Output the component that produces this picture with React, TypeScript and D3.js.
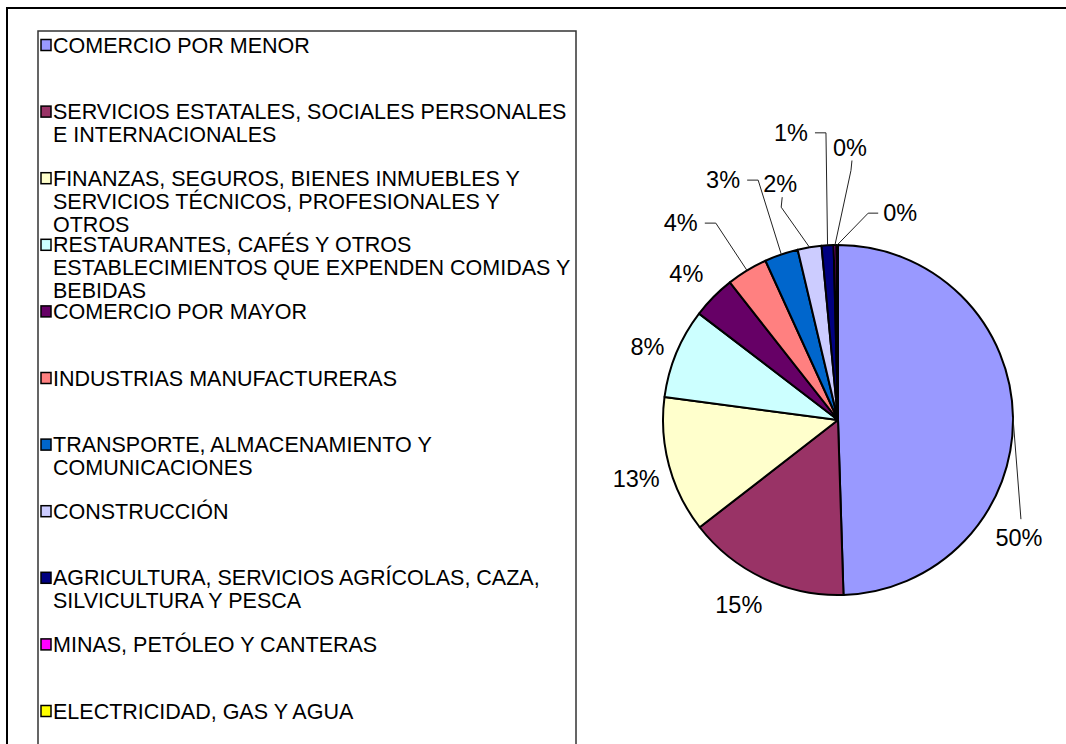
import { useEffect, useRef } from 'react';
import * as d3 from 'd3';

const categories = [
  'COMERCIO POR MENOR',
  'SERVICIOS ESTATALES, SOCIALES PERSONALES E INTERNACIONALES',
  'FINANZAS, SEGUROS, BIENES INMUEBLES Y SERVICIOS TÉCNICOS, PROFESIONALES Y OTROS',
  'RESTAURANTES, CAFÉS Y OTROS ESTABLECIMIENTOS QUE EXPENDEN COMIDAS Y BEBIDAS',
  'COMERCIO POR MAYOR',
  'INDUSTRIAS MANUFACTURERAS',
  'TRANSPORTE, ALMACENAMIENTO Y COMUNICACIONES',
  'CONSTRUCCIÓN',
  'AGRICULTURA, SERVICIOS AGRÍCOLAS, CAZA, SILVICULTURA Y PESCA',
  'MINAS, PETÓLEO Y CANTERAS',
  'ELECTRICIDAD, GAS Y AGUA',
];

// share of each sector (percent)
const shares = [49.5, 15.0, 12.6, 8.3, 4.0, 3.8, 3.1, 2.2, 1.1, 0.25, 0.15];

const colors = [
  '#9999ff', '#993366', '#ffffcc', '#ccffff', '#660066', '#ff8080',
  '#0066cc', '#ccccff', '#000080', '#ff00ff', '#ffff00',
];

// labels were dragged by hand in the original: [angle shift (deg), distance from centre]
const labelNudge: [number, number][] = [
  [34, 216], [3, 210], [-1, 210], [-1.6, 204], [-0.6, 211], [-7.3, 252],
  [-6.7, 266], [-4.4, 243], [-5.9, 291], [3.5, 273], [17, 216],
];
const leaderSide = ['top', '', '', '', '', 'right', 'right', 'bottom', 'right', 'bottom', 'left'];

const W = 1066,
  H = 744;
const FONT = 'Liberation Sans, Arial, sans-serif';

export default function App() {
  const svgRef = useRef<SVGSVGElement>(null);

  useEffect(() => {
    const svg = d3.select(svgRef.current);
    svg.selectAll('*').remove();

    // chart area border
    svg
      .append('rect')
      .attr('x', 7)
      .attr('y', 8)
      .attr('width', W + 20)
      .attr('height', H + 20)
      .attr('fill', '#fff')
      .attr('stroke', '#000')
      .attr('stroke-width', 2);

    // ---- legend ----
    const legend = svg.append('g');
    legend
      .append('rect')
      .attr('x', 38)
      .attr('y', 31)
      .attr('width', 538)
      .attr('height', H)
      .attr('fill', '#fff')
      .attr('stroke', '#333')
      .attr('stroke-width', 1.5);

    const y = d3.scalePoint<string>().domain(categories).range([45, 711]);
    const maxW = 522;

    categories.forEach((name, i) => {
      const g = legend.append('g').attr('transform', `translate(0,${y(name)})`);
      g.append('rect')
        .attr('x', 41)
        .attr('y', -5.5)
        .attr('width', 10)
        .attr('height', 11)
        .attr('fill', colors[i])
        .attr('stroke', '#000')
        .attr('stroke-width', 1.5);

      const text = g
        .append('text')
        .attr('x', 53)
        .attr('font-family', FONT)
        .attr('font-size', 21.5)
        .attr('fill', '#000');

      // greedy wrap
      const words = name.split(' ');
      let line: string[] = [];
      let lineNo = 0;
      let tspan = text.append('tspan').attr('x', 53).attr('dy', '0.35em');
      words.forEach((w) => {
        line.push(w);
        tspan.text(line.join(' '));
        if ((tspan.node() as SVGTSpanElement).getComputedTextLength() > maxW && line.length > 1) {
          line.pop();
          tspan.text(line.join(' '));
          line = [w];
          lineNo++;
          tspan = text.append('tspan').attr('x', 53).attr('y', lineNo * 23).attr('dy', '0.35em').text(w);
        }
      });
    });

    // ---- pie ----
    const cx = 838,
      cy = 420,
      R = 175;
    const total = d3.sum(shares);
    const pie = d3
      .pie<number>()
      .sort(null)
      .value((d) => d);
    const arcs = pie(shares);
    const arc = d3.arc<d3.PieArcDatum<number>>().innerRadius(0).outerRadius(R);

    const pg = svg.append('g').attr('transform', `translate(${cx},${cy})`);
    pg.selectAll('path.slice')
      .data(arcs)
      .join('path')
      .attr('class', 'slice')
      .attr('d', arc)
      .attr('fill', (_, i) => colors[i])
      .attr('stroke', '#000')
      .attr('stroke-width', 2)
      .attr('stroke-linejoin', 'round');

    const lines = pg.append('g');
    const labels = pg.append('g');

    arcs.forEach((a, i) => {
      const mid = (a.startAngle + a.endAngle) / 2;
      const [dAng, r] = labelNudge[i];
      const ang = mid + (dAng * Math.PI) / 180;
      const lx = r * Math.sin(ang),
        ly = -r * Math.cos(ang);
      const pct = Math.round((a.value / total) * 100 + 1e-6);
      const t = labels
        .append('text')
        .attr('x', lx)
        .attr('y', ly)
        .attr('dy', '0.35em')
        .attr('text-anchor', 'middle')
        .attr('font-family', FONT)
        .attr('font-size', 23.5)
        .attr('fill', '#000')
        .text(`${pct}%`);

      const side = leaderSide[i];
      if (!side) return;
      const bb = (t.node() as SVGTextElement).getBBox();
      const p0: [number, number] = [R * Math.sin(mid), -R * Math.cos(mid)];
      let pts: [number, number][] = [];
      if (side === 'top') pts = [[lx + 2, bb.y - 6], p0];
      if (side === 'right') {
        const ex = bb.x + bb.width;
        pts = [[ex + 7, ly], [ex + 18, ly], p0];
      }
      if (side === 'left') pts = [[bb.x - 5, ly], [bb.x - 15, ly], p0];
      if (side === 'bottom') {
        const by = bb.y + bb.height;
        pts = [[lx + 2, by], [lx + 1, by + 10], p0];
      }
      lines
        .append('path')
        .attr('d', d3.line()(pts))
        .attr('fill', 'none')
        .attr('stroke', '#222')
        .attr('stroke-width', 1);
    });
  }, []);

  return (
    <svg
      ref={svgRef}
      width={W}
      height={H}
      viewBox={`0 0 ${W} ${H}`}
      style={{ position: 'absolute', left: 0, top: 0, background: '#fff' }}
    />
  );
}
